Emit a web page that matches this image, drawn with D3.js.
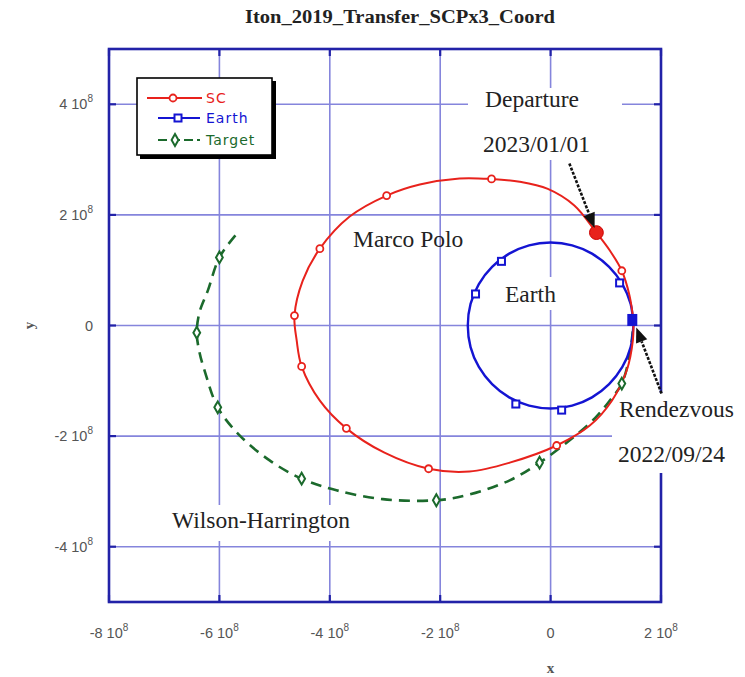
<!DOCTYPE html>
<html><head><meta charset="utf-8">
<script src="https://cdn.jsdelivr.net/npm/d3@7"></script>
<style>body{margin:0;background:#fff}svg{display:block}</style>
</head><body>
<script>
// ---- data (units: 1e8 km) ----
const chartTitle = "Iton_2019_Transfer_SCPx3_Coord";
const xTicks = [-8, -6, -4, -2, 0, 2];
const yTicks = [-4, -2, 0, 2, 4];
const xTickLabels = ["-8", "-6", "-4", "-2", "0", "2"];
const yTickLabels = ["-4", "-2", "0", "2", "4"];
const tickExponent = "8";
const seriesNames = ["SC", "Earth", "Target"];

const scPath = [[1.50,0.09],[1.43,0.54],[1.29,0.99],[1.07,1.36],[0.83,1.68],[0.43,2.17],[-0.05,2.47],[-0.56,2.60],[-1.07,2.65],[-1.65,2.66],[-2.37,2.55],[-2.97,2.35],[-3.64,1.97],[-4.18,1.39],[-4.49,0.81],[-4.64,0.18],[-4.60,-0.27],[-4.51,-0.74],[-4.18,-1.36],[-3.70,-1.86],[-3.01,-2.30],[-2.21,-2.59],[-1.47,-2.64],[-0.74,-2.48],[0.11,-2.17],[0.71,-1.81],[1.11,-1.36],[1.38,-0.81],[1.49,-0.27],[1.50,0.09]];
const scMarkers = [[1.29,0.99],[-1.07,2.65],[-2.97,2.35],[-4.18,1.39],[-4.64,0.18],[-4.51,-0.74],[-3.70,-1.86],[-2.21,-2.59],[0.11,-2.17]];

const earthPath = [[1.50,0.00],[1.45,0.39],[1.30,0.75],[1.06,1.06],[0.75,1.30],[0.39,1.45],[0.00,1.50],[-0.39,1.45],[-0.75,1.30],[-1.06,1.06],[-1.30,0.75],[-1.45,0.39],[-1.50,0.00],[-1.45,-0.39],[-1.30,-0.75],[-1.06,-1.06],[-0.75,-1.30],[-0.39,-1.45],[0.00,-1.50],[0.39,-1.45],[0.75,-1.30],[1.06,-1.06],[1.30,-0.75],[1.45,-0.39],[1.50,0.00]];
const earthMarkers = [[1.25,0.77],[-0.89,1.16],[-1.36,0.57],[-0.63,-1.42],[0.20,-1.53]];

const targetPath = [[-5.71,1.63],[-6.00,1.23],[-6.21,0.63],[-6.36,0.24],[-6.41,-0.13],[-6.36,-0.49],[-6.27,-0.81],[-6.03,-1.48],[-5.63,-1.99],[-5.09,-2.44],[-4.51,-2.77],[-3.88,-2.98],[-3.04,-3.14],[-2.07,-3.16],[-1.52,-3.07],[-0.74,-2.80],[-0.20,-2.48],[0.34,-2.08],[0.80,-1.68],[1.07,-1.36],[1.29,-1.05],[1.43,-0.54],[1.49,-0.09],[1.50,0.05]];
const targetMarkers = [[-6.00,1.23],[-6.41,-0.13],[-6.03,-1.48],[-4.51,-2.77],[-2.07,-3.16],[-0.20,-2.48],[1.29,-1.05]];

const departurePoint = [0.83, 1.68];
const rendezvousPoint = [1.48, 0.10];
// annotation anchors (data coords)
const departureTail = [0.34, 2.93];
const rendezvousTail = [2.01, -1.23];

// ---- layout ----
const W = 745, H = 677;
const svg = d3.select("body").append("svg").attr("width", W).attr("height", H)
  .style("font-family", "'Liberation Serif', 'Times New Roman', serif");
const x = d3.scaleLinear().domain([-8, 2]).range([109, 661]);
const y = d3.scaleLinear().domain([-5, 5]).range([602, 49]);

const RED = "#e8221c", BLUE = "#1414d2", GREEN = "#1b6a2c";
const GRID = "#8585dc", FRAME = "#2222a8";

svg.append("rect").attr("width", W).attr("height", H).attr("fill", "#fff");

// title
svg.append("text").attr("x", 400).attr("y", 23).attr("text-anchor", "middle")
  .attr("font-weight", "bold").attr("font-size", 18).attr("fill", "#222")
  .attr("textLength", 310).attr("lengthAdjust", "spacingAndGlyphs").text(chartTitle);

// grid
const g = svg.append("g");
g.selectAll(".gx").data(xTicks.filter(t => t > -8 && t < 2)).enter().append("line")
  .attr("x1", d => x(d)).attr("x2", d => x(d)).attr("y1", y(5)).attr("y2", y(-5))
  .attr("stroke", GRID).attr("stroke-width", 1.6);
g.selectAll(".gy").data(yTicks).enter().append("line")
  .attr("y1", d => y(d)).attr("y2", d => y(d)).attr("x1", x(-8)).attr("x2", x(2))
  .attr("stroke", GRID).attr("stroke-width", 1.6);

// inner ticks
const tk = 7;
yTicks.forEach(t => {
  g.append("line").attr("x1", x(-8)).attr("x2", x(-8) + tk).attr("y1", y(t)).attr("y2", y(t)).attr("stroke", FRAME).attr("stroke-width", 2.2);
  g.append("line").attr("x1", x(2)).attr("x2", x(2) - tk).attr("y1", y(t)).attr("y2", y(t)).attr("stroke", FRAME).attr("stroke-width", 2.2);
});
xTicks.forEach(t => {
  g.append("line").attr("y1", y(-5)).attr("y2", y(-5) - tk).attr("x1", x(t)).attr("x2", x(t)).attr("stroke", FRAME).attr("stroke-width", 2.2);
  g.append("line").attr("y1", y(5)).attr("y2", y(5) + tk).attr("x1", x(t)).attr("x2", x(t)).attr("stroke", FRAME).attr("stroke-width", 2.2);
});

// frame
svg.append("rect").attr("x", x(-8)).attr("y", y(5)).attr("width", x(2) - x(-8)).attr("height", y(-5) - y(5))
  .attr("fill", "none").attr("stroke", FRAME).attr("stroke-width", 2.6);

// tick labels
const tickFont = "'Liberation Sans', Arial, sans-serif";
yTicks.forEach((t, i) => {
  const tx = svg.append("text").attr("x", 93).attr("y", y(t) + 5).attr("text-anchor", "end")
    .attr("font-family", tickFont).attr("font-size", 14.5).attr("fill", "#555");
  tx.append("tspan").text(yTickLabels[i] === "0" ? "0" : yTickLabels[i] + " 10");
  if (yTickLabels[i] !== "0") tx.append("tspan").attr("dy", -7).attr("font-size", 10).text(tickExponent);
});
xTicks.forEach((t, i) => {
  const tx = svg.append("text").attr("x", x(t)).attr("y", 638).attr("text-anchor", "middle")
    .attr("font-family", tickFont).attr("font-size", 14.5).attr("fill", "#555");
  tx.append("tspan").text(xTickLabels[i] === "0" ? "0" : xTickLabels[i] + " 10");
  if (xTickLabels[i] !== "0") tx.append("tspan").attr("dy", -7).attr("font-size", 10).text(tickExponent);
});
// axis titles
svg.append("text").attr("transform", "translate(34," + y(0) + ") rotate(-90)").attr("text-anchor", "middle")
  .attr("font-weight", "bold").attr("font-size", 15).attr("fill", "#555").text("y");
svg.append("text").attr("x", x(0)).attr("y", 673).attr("text-anchor", "middle")
  .attr("font-weight", "bold").attr("font-size", 15).attr("fill", "#555").text("x");

// annotation label backgrounds (hide grid)
const annBoxes = [[468, 88, 154, 72], [612, 393, 133, 80], [160, 505, 210, 36], [500, 277, 62, 33]];
svg.selectAll(".ab").data(annBoxes).enter().append("rect")
  .attr("x", d => d[0]).attr("y", d => d[1]).attr("width", d => d[2]).attr("height", d => d[3]).attr("fill", "#fff");

// curves
const line = d3.line().x(d => x(d[0])).y(d => y(d[1])).curve(d3.curveCatmullRom.alpha(0.5));
svg.append("path").attr("d", line(targetPath)).attr("fill", "none").attr("stroke", GREEN)
  .attr("stroke-width", 2.6).attr("stroke-dasharray", "11,7");
svg.append("path").attr("d", line(earthPath)).attr("fill", "none").attr("stroke", BLUE).attr("stroke-width", 2.4);
svg.append("path").attr("d", line(scPath)).attr("fill", "none").attr("stroke", RED).attr("stroke-width", 2);

// markers
svg.selectAll(".tm").data(targetMarkers).enter().append("path")
  .attr("d", d3.symbol(d3.symbolDiamond, 40)).attr("transform", d => `translate(${x(d[0])},${y(d[1])})`)
  .attr("fill", "#fff").attr("stroke", GREEN).attr("stroke-width", 2);
svg.selectAll(".em").data(earthMarkers).enter().append("rect")
  .attr("x", d => x(d[0]) - 3.5).attr("y", d => y(d[1]) - 3.5).attr("width", 7).attr("height", 7)
  .attr("fill", "#fff").attr("stroke", BLUE).attr("stroke-width", 2);
svg.selectAll(".sm").data(scMarkers).enter().append("circle")
  .attr("cx", d => x(d[0])).attr("cy", d => y(d[1])).attr("r", 3.5)
  .attr("fill", "#fff").attr("stroke", RED).attr("stroke-width", 1.8);

// departure & rendezvous markers
svg.append("path").attr("d", d3.symbol(d3.symbolCircle, 150)).attr("transform", `translate(${x(departurePoint[0])},${y(departurePoint[1])})`)
  .attr("fill", RED).attr("stroke", "#c00").attr("stroke-width", 1);
svg.append("rect").attr("x", x(rendezvousPoint[0]) - 5).attr("y", y(rendezvousPoint[1]) - 6).attr("width", 10).attr("height", 12).attr("fill", BLUE);

// arrows
function arrow(tail, head) {
  const x0 = x(tail[0]), y0 = y(tail[1]), x1 = x(head[0]), y1 = y(head[1]);
  const ang = Math.atan2(y1 - y0, x1 - x0);
  const tipX = x1 - Math.cos(ang) * 5, tipY = y1 - Math.sin(ang) * 5;
  const hl = 15, hw = 6;
  const bx = tipX - Math.cos(ang) * hl, by = tipY - Math.sin(ang) * hl;
  svg.append("line").attr("x1", x0).attr("y1", y0).attr("x2", bx).attr("y2", by)
    .attr("stroke", "#111").attr("stroke-width", 2.6).attr("stroke-dasharray", "3,1.5");
  const px = -Math.sin(ang) * hw, py = Math.cos(ang) * hw;
  svg.append("path").attr("d", `M${tipX},${tipY}L${bx + px},${by + py}L${bx - px},${by - py}Z`).attr("fill", "#111");
}
arrow(departureTail, departurePoint);
arrow(rendezvousTail, [1.52, 0.05]);

// annotation texts
const annos = [["Departure", 485, 107], ["2023/01/01", 483, 152], ["Marco Polo", 353, 247], ["Earth", 505, 302],
               ["Rendezvous", 619, 417], ["2022/09/24", 618, 462], ["Wilson-Harrington", 172, 528]];
svg.selectAll(".an").data(annos).enter().append("text")
  .attr("x", d => d[1]).attr("y", d => d[2]).attr("font-size", 23.5).attr("fill", "#222").text(d => d[0]);

// legend
const lg = svg.append("g");
lg.append("rect").attr("x", 140).attr("y", 81).attr("width", 136).attr("height", 78).attr("fill", "#000");
lg.append("rect").attr("x", 137).attr("y", 78).attr("width", 135).attr("height", 77).attr("fill", "#fff").attr("stroke", "#000").attr("stroke-width", 1.6);
const legItems = [
  {name: seriesNames[0], color: RED, y: 98, x1: 147, x2: 202, mx: 173, dash: null, sym: "circle"},
  {name: seriesNames[1], color: BLUE, y: 118, x1: 158, x2: 200, mx: 178, dash: null, sym: "square"},
  {name: seriesNames[2], color: GREEN, y: 140, x1: 158, x2: 200, mx: 175, dash: "9,4", sym: "diamond"}
];
legItems.forEach(it => {
  lg.append("line").attr("x1", it.x1).attr("x2", it.x2).attr("y1", it.y).attr("y2", it.y)
    .attr("stroke", it.color).attr("stroke-width", 2.2).attr("stroke-dasharray", it.dash);
  if (it.sym === "circle") lg.append("circle").attr("cx", it.mx).attr("cy", it.y).attr("r", 3.5).attr("fill", "#fff").attr("stroke", it.color).attr("stroke-width", 1.8);
  if (it.sym === "square") lg.append("rect").attr("x", it.mx - 3.5).attr("y", it.y - 3.5).attr("width", 7).attr("height", 7).attr("fill", "#fff").attr("stroke", it.color).attr("stroke-width", 2);
  if (it.sym === "diamond") lg.append("path").attr("d", d3.symbol(d3.symbolDiamond, 40)).attr("transform", `translate(${it.mx},${it.y})`).attr("fill", "#fff").attr("stroke", it.color).attr("stroke-width", 2);
  lg.append("text").attr("x", 206).attr("y", it.y + 5).attr("font-family", "'DejaVu Sans', sans-serif")
    .attr("font-size", 14).attr("letter-spacing", 1).attr("fill", it.color).text(it.name);
});
</script>
</body></html>
